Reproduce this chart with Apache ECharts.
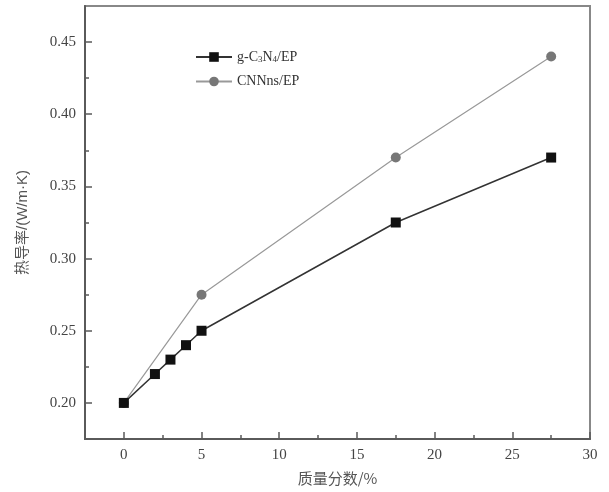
<!DOCTYPE html>
<html>
<head>
<meta charset="utf-8">
<script src="https://cdn.jsdelivr.net/npm/echarts@6/dist/echarts.min.js"></script>
<style>
  html, body { margin: 0; padding: 0; background: #fff; }
  #main { width: 609px; height: 492px; }
</style>
</head>
<body>
<div id="main"></div>
<script>
// mass fraction (%) and thermal conductivity (W/m·K)
const gcnX = [0, 2, 3, 4, 5, 17.5, 27.5];
const gcnY = [0.20, 0.22, 0.23, 0.24, 0.25, 0.325, 0.37];
const cnnX = [0, 5, 17.5, 27.5];
const cnnY = [0.20, 0.275, 0.37, 0.44];

const xMajor = [0, 5, 10, 15, 20, 25, 30];
const xMinor = [2.5, 7.5, 12.5, 17.5, 22.5, 27.5];
const yMajor = [0.20, 0.25, 0.30, 0.35, 0.40, 0.45];
const yMinor = [0.225, 0.275, 0.325, 0.375, 0.425];

const serif = '"Liberation Serif", "Times New Roman", serif';
const cjk = '"Noto Sans CJK SC", sans-serif';
const axisCol = '#5a5a5a';

const chart = echarts.init(document.getElementById('main'));

const baseX = { type: 'value', min: -2.5, max: 30, splitLine: { show: false } };
const baseY = { type: 'value', min: 0.175, max: 0.475, splitLine: { show: false } };

chart.setOption({
    backgroundColor: '#fff',
    animation: false,
    grid: {
        left: 85, right: 19, top: 6, bottom: 53,
        show: true, borderColor: '#888', borderWidth: 2
    },
    legend: {
        orient: 'vertical', left: 190, top: 45,
        itemWidth: 36, itemHeight: 12, itemGap: 10,
        textStyle: {
            fontFamily: serif, fontSize: 14, color: '#333',
            rich: { sub: { fontFamily: serif, fontSize: 9, color: '#333', verticalAlign: 'bottom', padding: [6, 0, 0, 0] } }
        },
        formatter: n => n === 'gcn' ? 'g-C{sub|3}N{sub|4}/EP' : 'CNNns/EP',
        data: ['gcn', 'cnn']
    },
    xAxis: [
        {
            ...baseX,
            name: '质量分数/%', nameLocation: 'middle', nameGap: 32,
            nameTextStyle: { fontFamily: cjk, fontSize: 15, color: '#555' },
            axisLine: { onZero: false, lineStyle: { color: axisCol, width: 2 } },
            axisTick: { inside: true, length: 7, lineStyle: { color: axisCol, width: 1.5 }, customValues: xMajor },
            axisLabel: { customValues: xMajor, margin: 9, fontFamily: serif, fontSize: 15, color: '#444' }
        },
        {
            ...baseX, position: 'bottom',
            axisLine: { show: false, onZero: false },
            axisTick: { inside: true, length: 4, lineStyle: { color: axisCol, width: 1.5 }, customValues: xMinor },
            axisLabel: { show: false }
        }
    ],
    yAxis: [
        {
            ...baseY,
            name: '热导率/(W/m·K)', nameLocation: 'middle', nameGap: 55,
            nameTextStyle: { fontFamily: '"Liberation Sans", "Noto Sans CJK SC", sans-serif', fontSize: 15, color: '#555' },
            axisLine: { onZero: false, lineStyle: { color: axisCol, width: 2 } },
            axisTick: { inside: true, length: 7, lineStyle: { color: axisCol, width: 1.5 }, customValues: yMajor },
            axisLabel: {
                customValues: yMajor, margin: 9, fontFamily: serif, fontSize: 15, color: '#444',
                formatter: v => v.toFixed(2)
            }
        },
        {
            ...baseY, position: 'left',
            axisLine: { show: false, onZero: false },
            axisTick: { inside: true, length: 4, lineStyle: { color: axisCol, width: 1.5 }, customValues: yMinor },
            axisLabel: { show: false }
        }
    ],
    series: [
        {
            name: 'cnn', type: 'line',
            symbol: 'circle', symbolSize: 10,
            itemStyle: { color: '#777' },
            lineStyle: { color: '#999', width: 1.2 },
            data: cnnX.map((x, i) => [x, cnnY[i]]),
            z: 2
        },
        {
            name: 'gcn', type: 'line',
            symbol: 'rect', symbolSize: 10,
            itemStyle: { color: '#111' },
            lineStyle: { color: '#333', width: 1.5 },
            data: gcnX.map((x, i) => [x, gcnY[i]]),
            z: 3
        }
    ]
});
</script>
</body>
</html>
